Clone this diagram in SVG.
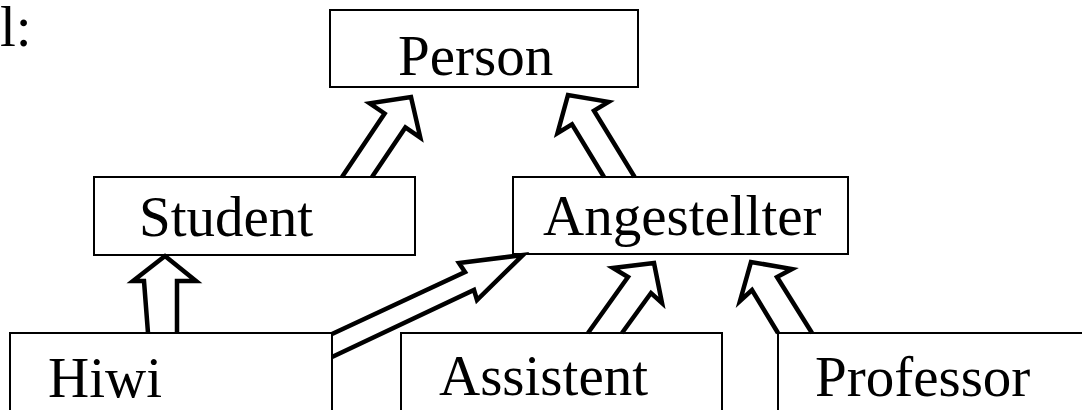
<svg xmlns="http://www.w3.org/2000/svg" width="1082" height="410" viewBox="0 0 1082 410">
  <style>
    .box { fill: none; stroke: #000; stroke-width: 2; }
    .lbl { font-family: "Liberation Serif", "Times New Roman", serif; font-size: 57px; fill: #000; }
    .gen { fill: #fff; stroke: #000; stroke-width: 4.5; stroke-linejoin: miter; stroke-miterlimit: 10; }
  </style>
  <rect width="1082" height="410" fill="#fff"/>

  <!-- trailing fragment of the heading -->
  <text class="lbl" x="0" y="46">l:</text>

  <!-- generalisation arrows (hollow block arrows, open at the sub-class end) -->
  <g id="connectors">
    <path class="gen" d="M342,177 L384.6,113.5 L369.7,103.4 L411,97 L420.3,137.6 L405.4,127.5 L372,177"/>
    <path class="gen" d="M604,177 L572,124.3 L557.5,133.1 L568,95 L608.5,101.9 L594,110.7 L634.6,177"/>
    <path class="gen" d="M148,333 L144,281 L133,281 L165,256 L196,281 L177,281 L177,333"/>
    <path class="gen" d="M332,334 L465,272 L459,263 L523,255 L477,300 L474,290 L332,357"/>
    <path class="gen" d="M588,333 L628,277 L613,268 L654,263 L662,303 L651,293 L622,333"/>
    <path class="gen" d="M778,333 L752,290 L740,301 L751,262 L792,269 L777,277 L812,333"/>
  </g>

  <g id="person">
    <rect class="box" x="330" y="10" width="308" height="77"/>
    <text class="lbl" x="398" y="75">Person</text>
  </g>
  <g id="student">
    <rect class="box" x="94" y="177" width="321" height="78"/>
    <text class="lbl" x="139" y="236">Student</text>
  </g>
  <g id="angestellter">
    <rect class="box" x="513" y="177" width="335" height="77"/>
    <text class="lbl" x="543" y="235">Angestellter</text>
  </g>
  <g id="hiwi">
    <rect class="box" x="10" y="333" width="322" height="100"/>
    <text class="lbl" x="48" y="397">Hiwi</text>
  </g>
  <g id="assistent">
    <rect class="box" x="401" y="333" width="321" height="100"/>
    <text class="lbl" x="439" y="395">Assistent</text>
  </g>
  <g id="professor">
    <rect class="box" x="778" y="333" width="320" height="100"/>
    <text class="lbl" x="815" y="396">Professor</text>
  </g>
</svg>
